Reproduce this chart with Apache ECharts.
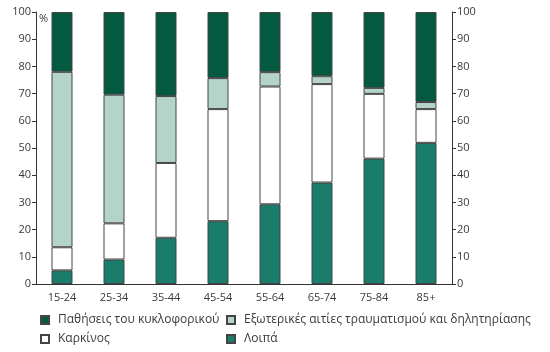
<!DOCTYPE html>
<html>
<head>
<meta charset="utf-8">
<script src="https://cdn.jsdelivr.net/npm/echarts@6/dist/echarts.min.js"></script>
<style>
  html, body { margin: 0; padding: 0; background: #fff; }
  #chart { width: 550px; height: 352px; }
</style>
</head>
<body>
<div id="chart"></div>
<script>
// Age groups
const categories = ['15-24', '25-34', '35-44', '45-54', '55-64', '65-74', '75-84', '85+'];

// Share of deaths by cause (%), stacked bottom to top
const loipa      = [5.0, 9.0, 17.0, 23.1, 29.3, 37.3, 46.1, 51.9];
const karkinos   = [8.5, 13.3, 27.5, 41.2, 43.3, 36.2, 23.8, 12.4];
const exoterikes = [64.5, 47.3, 24.6, 11.4, 5.3, 2.9, 2.2, 2.6];
const kykloforiko = [22.0, 30.4, 30.9, 24.3, 22.1, 23.6, 27.9, 33.1];

const yTicks = [0, 10, 20, 30, 40, 50, 60, 70, 80, 90, 100];

const names = {
  kykl: 'Παθήσεις του κυκλοφορικού',
  exot: 'Εξωτερικές αιτίες τραυματισμού και δηλητηρίασης',
  kark: 'Καρκίνος',
  loip: 'Λοιπά'
};

const font = '"Open Sans", "DejaVu Sans", sans-serif';
const textColor = '#3a3a3a';

function bar(name, data, color) {
  return {
    name: name,
    type: 'bar',
    stack: 'total',
    data: data,
    barWidth: 21,
    itemStyle: { color: color, borderColor: '#444', borderWidth: 1 }
  };
}

function legendItem(name, left, top) {
  return {
    data: [name],
    left: left, top: top,
    icon: 'rect',
    itemWidth: 8, itemHeight: 8, itemGap: 0,
    padding: 0,
    textStyle: { color: textColor, fontSize: 12, fontFamily: font, padding: [0, 0, 0, 4] }
  };
}

const yAxisBase = {
  type: 'value',
  min: yTicks[0],
  max: yTicks[yTicks.length - 1],
  interval: 10,
  splitLine: { show: false },
  axisLine: { show: true, lineStyle: { color: '#333', width: 1 } },
  axisTick: { show: true, length: 4, lineStyle: { color: '#333' } },
  axisLabel: { color: textColor, fontSize: 11, fontFamily: font, margin: 5 }
};

const chart = echarts.init(document.getElementById('chart'), null, { renderer: 'canvas' });
chart.setOption({
  animation: false,
  backgroundColor: '#fff',
  grid: { left: 36, right: 98, top: 12, bottom: 68 },
  xAxis: {
    type: 'category',
    data: categories,
    axisLine: { lineStyle: { color: '#333', width: 1 } },
    axisTick: { show: false },
    axisLabel: { color: textColor, fontSize: 11, fontFamily: font, margin: 8 }
  },
  yAxis: [
    Object.assign({}, yAxisBase, { position: 'left' }),
    Object.assign({}, yAxisBase, { position: 'right' })
  ],
  legend: [
    legendItem(names.kykl, 40, 314),
    legendItem(names.exot, 226, 314),
    legendItem(names.kark, 40, 333),
    legendItem(names.loip, 226, 333)
  ],
  graphic: [
    {
      type: 'text', left: 39, top: 13,
      style: { text: '%', fill: textColor, font: '11px ' + font }
    }
  ],
  series: [
    bar(names.loip, loipa, '#1a7d6b'),
    bar(names.kark, karkinos, '#ffffff'),
    bar(names.exot, exoterikes, '#b4d3c9'),
    bar(names.kykl, kykloforiko, '#035a41')
  ]
});
</script>
</body>
</html>
